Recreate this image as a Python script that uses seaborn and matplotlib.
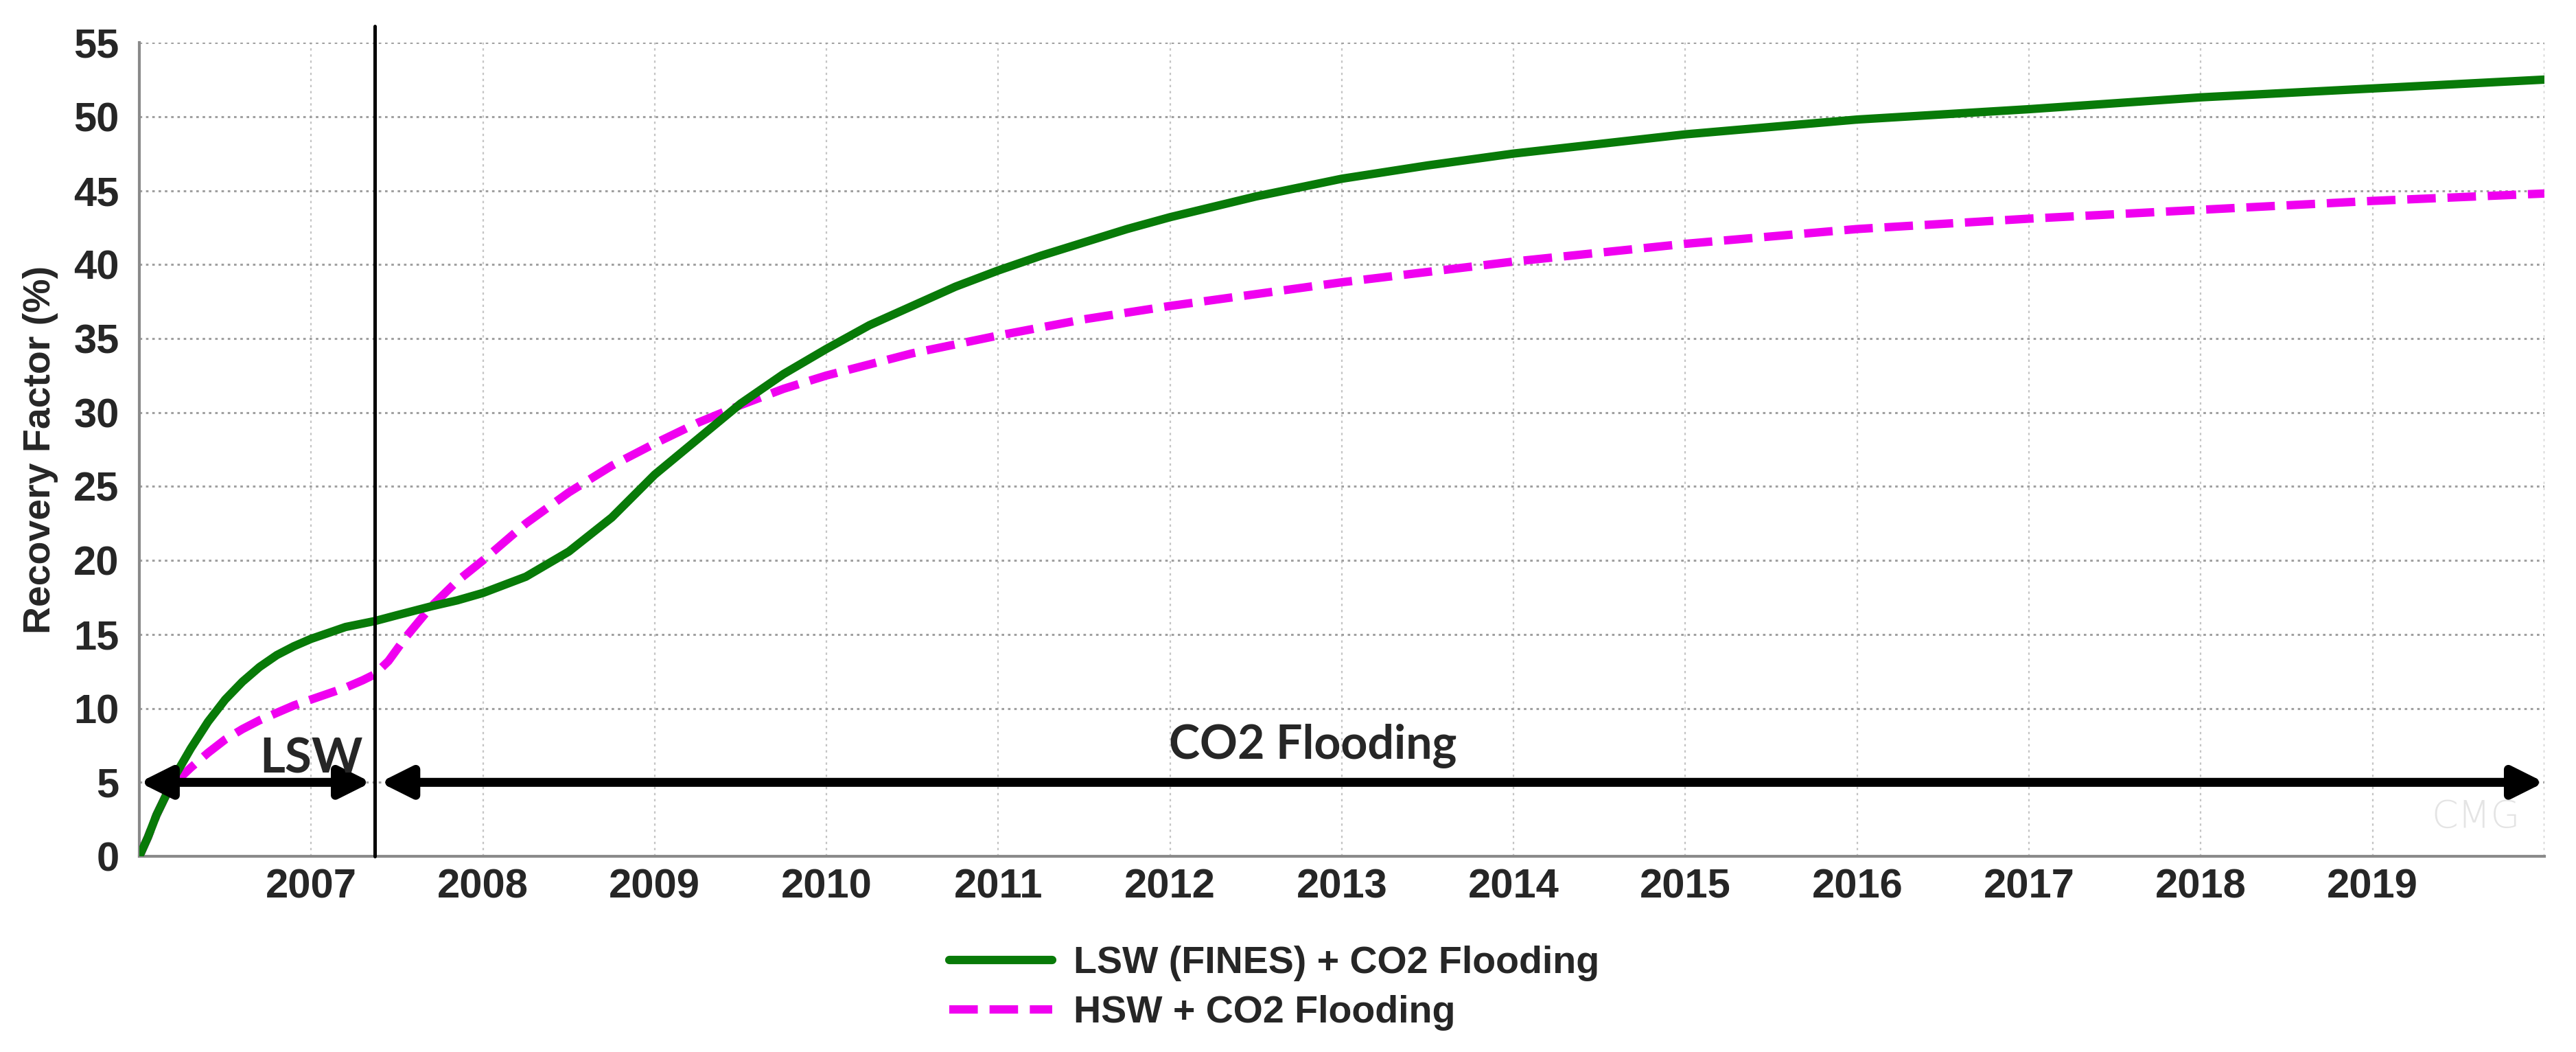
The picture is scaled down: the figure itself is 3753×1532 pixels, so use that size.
import matplotlib
matplotlib.use('Agg')
import pandas as pd
import matplotlib.pyplot as plt
import seaborn as sns

# Dados (ano decimal, fator de recuperação %)
anos_lsw = [2006.0, 2006.05, 2006.1, 2006.15, 2006.2, 2006.3, 2006.4, 2006.5, 2006.6, 2006.7,
            2006.8, 2006.9, 2007.0, 2007.1, 2007.2, 2007.37, 2007.5, 2007.7, 2007.85, 2008.0,
            2008.25, 2008.5, 2008.75, 2009.0, 2009.25, 2009.5, 2009.75, 2010.0, 2010.25, 2010.5,
            2010.75, 2011.0, 2011.25, 2011.5, 2011.75, 2012.0, 2012.5, 2013.0, 2013.5, 2014.0,
            2015.0, 2016.0, 2017.0, 2018.0, 2019.0, 2020.0]
rf_lsw = [0.0, 1.3, 2.8, 4.0, 5.3, 7.3, 9.1, 10.6, 11.8, 12.8,
          13.6, 14.2, 14.7, 15.1, 15.5, 15.9, 16.3, 16.9, 17.3, 17.8,
          18.9, 20.6, 22.9, 25.8, 28.2, 30.6, 32.6, 34.3, 35.9, 37.2,
          38.5, 39.6, 40.6, 41.5, 42.4, 43.2, 44.6, 45.8, 46.7, 47.5,
          48.8, 49.8, 50.5, 51.3, 51.9, 52.5]

anos_hsw = [2006.0, 2006.05, 2006.1, 2006.15, 2006.2, 2006.3, 2006.4, 2006.5, 2006.6, 2006.7,
            2006.8, 2006.9, 2007.0, 2007.1, 2007.2, 2007.3, 2007.37, 2007.45, 2007.55, 2007.7,
            2007.85, 2008.0, 2008.25, 2008.5, 2008.75, 2009.0, 2009.25, 2009.5, 2009.75, 2010.0,
            2010.5, 2011.0, 2011.5, 2012.0, 2012.5, 2013.0, 2013.5, 2014.0, 2015.0, 2016.0,
            2017.0, 2018.0, 2019.0, 2020.0]
rf_hsw = [0.0, 1.3, 2.8, 4.0, 4.9, 6.0, 7.0, 7.9, 8.6, 9.2,
          9.7, 10.2, 10.6, 11.0, 11.4, 11.9, 12.3, 13.2, 14.8, 16.9,
          18.6, 20.0, 22.5, 24.6, 26.4, 27.9, 29.3, 30.5, 31.6, 32.5,
          34.0, 35.2, 36.3, 37.2, 38.0, 38.8, 39.5, 40.2, 41.4, 42.4,
          43.1, 43.7, 44.3, 44.8]

inicio_co2 = 2007.37
anos_ticks = list(range(2006, 2021))
rotulos_ticks = [''] + [str(a) for a in range(2007, 2020)] + ['']

df_lsw = pd.DataFrame({'Ano': anos_lsw, 'RF': rf_lsw})
df_hsw = pd.DataFrame({'Ano': anos_hsw, 'RF': rf_hsw})

sns.set_style('white')
plt.rcParams['font.family'] = ['Liberation Sans', 'DejaVu Sans']

fig, ax = plt.subplots(figsize=(18.765, 7.66), dpi=200)
fig.subplots_adjust(left=0.0541, right=0.9877, bottom=0.186, top=0.9595)

sns.lineplot(data=df_lsw, x='Ano', y='RF', color='#087a08', lw=4.4, ax=ax,
             label='LSW (FINES) + CO2 Flooding', estimator=None, zorder=4)
sns.lineplot(data=df_hsw, x='Ano', y='RF', color='#f000f0', lw=4.4, ax=ax,
             linestyle=(0, (3.4, 1.4)), label='HSW + CO2 Flooding', estimator=None, zorder=3)

ax.set_xlim(2006, 2020)
ax.set_ylim(0, 55)
ax.set_xticks(anos_ticks)
ax.set_xticklabels(rotulos_ticks)
ax.set_yticks(range(0, 56, 5))

# Grelha
ax.grid(axis='y', color='#a0a0a0', lw=1.1, linestyle=(0, (1.2, 1.8)))
ax.grid(axis='x', color='#c4c4c4', lw=0.8, linestyle=(0, (1.5, 2.5)))
for s in ['top', 'right']:
    ax.spines[s].set_visible(False)
for s in ['left', 'bottom']:
    ax.spines[s].set_color('#8a8a8a')
    ax.spines[s].set_linewidth(1.5)

ax.tick_params(axis='y', length=4.6, width=1.5, color='#8a8a8a', pad=6, labelsize=21.5)
ax.tick_params(axis='x', length=4.3, width=1.5, color='#8a8a8a', pad=2, labelsize=21.5)
for t in ax.get_xticklabels() + ax.get_yticklabels():
    t.set_fontweight('bold')

ax.set_xlabel('')
ax.set_ylabel('Recovery Factor (%)', fontsize=20, fontweight='bold', labelpad=8)

# Linha de separação LSW / CO2
ax.plot([inicio_co2, inicio_co2], [0, 56.1], color='black', lw=1.8, clip_on=False, zorder=5)

# Setas de fases
seta = dict(arrowstyle='<|-|>', color='black', lw=4.7, mutation_scale=34, shrinkA=0, shrinkB=0)
ax.annotate('', xy=(inicio_co2 - 0.02, 5), xytext=(2006.0, 5), arrowprops=seta, zorder=6)
ax.annotate('', xy=(2020.0, 5), xytext=(inicio_co2 + 0.03, 5), arrowprops=seta, zorder=6)
ax.text(2007.0, 5.66, 'LSW', ha='center', va='baseline', family='Lato',
        fontweight='bold', fontsize=25.5, zorder=7)
ax.text(2012.83, 6.6, 'CO2 Flooding', ha='center', va='baseline', family='Lato',
        fontweight='bold', fontsize=24.5, zorder=7)

# marca d'água
ax.text(2019.6, 2.65, 'CMG', ha='center', va='center', color='#e4e4e4', fontsize=20,
        family='DejaVu Sans', fontweight='light', zorder=1)

leg = ax.legend(loc='upper left', bbox_to_anchor=(0.3685, 0.101), bbox_transform=fig.transFigure,
                frameon=False, fontsize=20, handlelength=2.7, handletextpad=0.55,
                labelspacing=0.36, borderpad=0, borderaxespad=0)
for t in leg.get_texts():
    t.set_fontweight('bold')

fig.savefig('out.png', dpi=200, facecolor='white')
